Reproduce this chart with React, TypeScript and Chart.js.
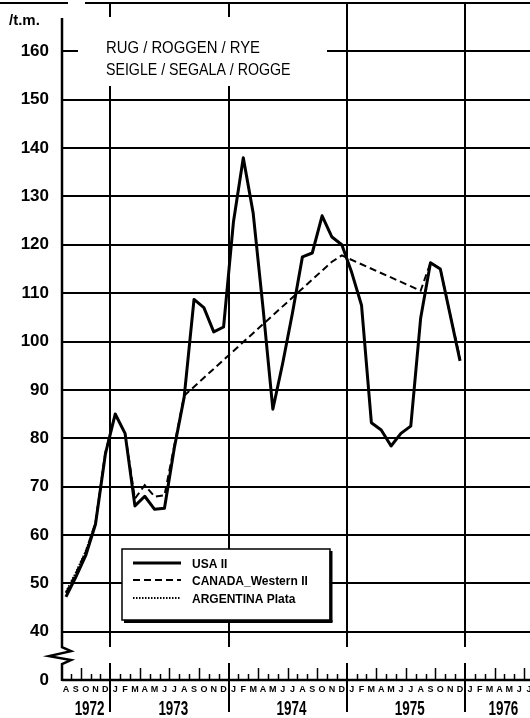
import React, { useEffect, useRef } from 'react';
import { Chart, registerables } from 'chart.js';

Chart.register(...registerables);

// ---- data ----
const FIRST_YEAR = 1972;
const FIRST_MONTH = 7; // August (0-based calendar month of index 0)
const MONTH_LETTERS = [
  'A', 'S', 'O', 'N', 'D',
  'J', 'F', 'M', 'A', 'M', 'J', 'J', 'A', 'S', 'O', 'N', 'D',
  'J', 'F', 'M', 'A', 'M', 'J', 'J', 'A', 'S', 'O', 'N', 'D',
  'J', 'F', 'M', 'A', 'M', 'J', 'J', 'A', 'S', 'O', 'N', 'D',
  'J', 'F', 'M', 'A', 'M', 'J', 'J',
];
const YEARS = ['1972', '1973', '1974', '1975', '1976'];
const Y_TICK_VALUES = [30, 40, 50, 60, 70, 80, 90, 100, 110, 120, 130, 140, 150, 160];
const Y_TICK_LABELS = ['0', '40', '50', '60', '70', '80', '90', '100', '110', '120', '130', '140', '150', '160'];

const USA = [
  47.2, 51.3, 55.7, 62.2, 76.7,
  85, 81, 66, 68, 65.3, 65.5, 78, 88.5, 108.7, 107, 102, 103,
  124.7, 138, 126.6, 107, 86, 95.5, 106, 117.5, 118.3, 126, 121.6, 120,
  114.3, 107.5, 83.2, 81.7, 78.4, 81, 82.5, 104.8, 116.3, 115, 105.5, 96,
];
const CANADA: (number | null)[] = [
  48, 52, 56.5, 62.5, 77,
  85, 81, 67.5, 70.3, 67.9, 68.2, 78.5, 88.8, null, null, null, null,
  null, null, null, null, null, null, null, null, null, null, 116.5, 117.8,
  null, null, null, null, null, null, null, 110.5, 116.3, 115, 105.5, 96.5,
];
const ARGENTINA: (number | null)[] = [
  48.2, 52.2, 56.6, 62.4, 77,
];

const SERIES_LABELS = ['USA II', 'CANADA_Western II', 'ARGENTINA Plata'];
const TITLE_LINES = ['RUG / ROGGEN / RYE', 'SEIGLE / SEGALA / ROGGE'];
const UNIT_LABEL = '/t.m.';

// axis break (drawn between the "0" position and 40)
const BREAK_HIGH = 36.8;
const BREAK_LOW = 33.5;

const FONT = "'Liberation Sans', Arial, Helvetica, sans-serif";

function toPoints(arr: (number | null)[]) {
  return arr
    .map((v, i) => ({ x: i, y: v }))
    .filter((p) => p.y !== null && p.y !== undefined);
}

function seg(ctx: CanvasRenderingContext2D, x1: number, y1: number, x2: number, y2: number) {
  ctx.beginPath();
  ctx.moveTo(x1, y1);
  ctx.lineTo(x2, y2);
  ctx.stroke();
}

function txt(
  ctx: CanvasRenderingContext2D,
  text: string,
  x: number,
  y: number,
  font: string,
  sx = 1,
  align: CanvasTextAlign = 'left'
) {
  ctx.save();
  ctx.font = font;
  ctx.fillStyle = '#000';
  ctx.textAlign = align;
  ctx.textBaseline = 'alphabetic';
  ctx.translate(x, y);
  ctx.scale(sx, 1);
  ctx.fillText(text, 0, 0);
  ctx.restore();
}

const decor = {
  id: 'decor',
  beforeDatasetsDraw(chart: any) {
    const { ctx, chartArea: ca, scales } = chart;
    const x = scales.x;
    const y = scales.y;
    const L = ca.left;
    const breakTop = y.getPixelForValue(BREAK_HIGH);
    const breakBot = y.getPixelForValue(BREAK_LOW);
    ctx.save();
    ctx.strokeStyle = '#000';
    ctx.fillStyle = '#000';

    // year boundary lines
    ctx.lineWidth = 2;
    for (let k = 1; k < YEARS.length; k++) {
      const idx = k * 12 - FIRST_MONTH - 0.5;
      const px = Math.round(x.getPixelForValue(idx));
      seg(ctx, px, ca.top, px, breakTop);
      seg(ctx, px, breakBot, px, ca.bottom + 32);
    }

    // top border
    seg(ctx, 0, ca.top, 68, ca.top);
    seg(ctx, 85, ca.top, ca.right, ca.top);

    // y axis with break
    ctx.lineWidth = 2.5;
    ctx.lineJoin = 'miter';
    ctx.beginPath();
    ctx.moveTo(L, ca.top + 15);
    ctx.lineTo(L, breakTop);
    ctx.lineTo(L + 9, breakTop + 4);
    ctx.lineTo(L - 13, breakTop + 9);
    ctx.lineTo(L + 9, breakTop + 13);
    ctx.lineTo(L, breakBot + 1);
    ctx.lineTo(L, ca.bottom + 1);
    ctx.stroke();

    // x axis
    ctx.lineWidth = 2.5;
    seg(ctx, L, ca.bottom, ca.right, ca.bottom);

    // month ticks
    ctx.lineWidth = 1.5;
    for (let i = 0; i < MONTH_LETTERS.length; i++) {
      const b = i - 0.5;
      if (b < x.min) continue;
      const cal = (FIRST_MONTH + i) % 12;
      if (cal === 0) continue;
      const h = cal % 3 === 0 ? 12 : 6;
      const px = Math.round(x.getPixelForValue(b)) + 0.5;
      seg(ctx, px, ca.bottom, px, ca.bottom - h);
    }

    // year labels
    YEARS.forEach((yr, k) => {
      const first = Math.max(0, k * 12 - FIRST_MONTH);
      const last = Math.min(MONTH_LETTERS.length - 1, k * 12 - FIRST_MONTH + 11);
      const px = x.getPixelForValue((first + last) / 2 + 0.4);
      txt(ctx, yr, px, ca.bottom + 35, `bold 21px ${FONT}`, 0.64, 'center');
    });

    // title box
    ctx.fillStyle = '#fff';
    ctx.fillRect(78, 17, 249, 69);
    txt(ctx, TITLE_LINES[0], 106, 53, `16.5px ${FONT}`, 0.9);
    txt(ctx, TITLE_LINES[1], 106, 75, `16.5px ${FONT}`, 0.86);

    // unit label
    txt(ctx, UNIT_LABEL, 9, 25, `bold 15px ${FONT}`, 1);

    ctx.restore();
  },
  afterDatasetsDraw(chart: any) {
    const { ctx } = chart;
    const bx = 122, by = 549, bw = 208, bh = 71;
    ctx.save();
    ctx.fillStyle = '#fff';
    ctx.fillRect(bx, by, bw, bh);
    ctx.strokeStyle = '#000';
    ctx.lineWidth = 1.5;
    ctx.strokeRect(bx, by, bw, bh);
    ctx.lineWidth = 3;
    seg(ctx, bx + bw + 1, by + 2, bx + bw + 1, by + bh + 2);
    seg(ctx, bx + 2, by + bh + 1.5, bx + bw + 2.5, by + bh + 1.5);

    const rows = [563, 580, 598];
    chart.data.datasets.forEach((ds: any, i: number) => {
      const yy = rows[i];
      ctx.save();
      ctx.strokeStyle = '#000';
      ctx.lineWidth = ds.borderWidth;
      ctx.setLineDash(ds.borderDash || []);
      seg(ctx, 133, yy, 181, yy);
      ctx.restore();
      txt(ctx, ds.label, 192, yy + 4.5, `bold 12px ${FONT}`, 1);
    });
    ctx.restore();
  },
};

export default function App() {
  const ref = useRef<HTMLCanvasElement>(null);

  useEffect(() => {
    const canvas = ref.current;
    if (!canvas) return;
    const chart = new Chart(canvas, {
      type: 'line',
      data: {
        datasets: [
          {
            label: SERIES_LABELS[0],
            data: toPoints(USA),
            borderColor: '#000',
            borderWidth: 3,
            pointRadius: 0,
            tension: 0,
            borderJoinStyle: 'round',
          },
          {
            label: SERIES_LABELS[1],
            data: toPoints(CANADA),
            borderColor: '#000',
            borderWidth: 2,
            borderDash: [7, 4],
            pointRadius: 0,
            tension: 0,
          },
          {
            label: SERIES_LABELS[2],
            data: toPoints(ARGENTINA),
            borderColor: '#000',
            borderWidth: 2,
            borderDash: [1.5, 1.5],
            pointRadius: 0,
            tension: 0,
          },
        ],
      } as any,
      options: {
        responsive: false,
        animation: false,
        devicePixelRatio: 1,
        parsing: true,
        layout: { padding: { top: 3, left: 0, right: 0, bottom: 0 } },
        plugins: {
          legend: { display: false },
          tooltip: { enabled: false },
          title: { display: false },
        },
        scales: {
          x: {
            type: 'linear',
            min: -0.4,
            max: 47.1,
            grid: { display: false, drawTicks: false },
            border: { display: false },
            afterBuildTicks: (s: any) => {
              s.ticks = MONTH_LETTERS.map((_, i) => ({ value: i }));
            },
            ticks: {
              autoSkip: false,
              maxRotation: 0,
              minRotation: 0,
              padding: 4,
              color: '#000',
              font: { family: FONT, size: 9, weight: 'bold' },
              callback: (v: any) => MONTH_LETTERS[Math.round(Number(v))] ?? '',
            },
            afterFit: (s: any) => {
              s.height = 38;
              s.paddingLeft = 0;
              s.paddingRight = 0;
            },
          },
          y: {
            type: 'linear',
            min: 30,
            max: 170,
            border: { display: false },
            grid: {
              drawTicks: false,
              lineWidth: 2,
              color: (c: any) => (c.tick && c.tick.value >= 40 ? '#000' : 'rgba(0,0,0,0)'),
            },
            afterBuildTicks: (s: any) => {
              s.ticks = Y_TICK_VALUES.map((v) => ({ value: v }));
            },
            ticks: {
              autoSkip: false,
              padding: 13,
              color: '#000',
              font: { family: FONT, size: 17, weight: 'bold' },
              callback: (v: any) => {
                const i = Y_TICK_VALUES.indexOf(Number(v));
                return i >= 0 ? Y_TICK_LABELS[i] : '';
              },
            },
            afterFit: (s: any) => {
              s.width = 62;
              s.paddingTop = 0;
              s.paddingBottom = 0;
            },
          },
        },
      } as any,
      plugins: [decor],
    });
    return () => chart.destroy();
  }, []);

  return (
    <div style={{ position: 'absolute', left: 0, top: 0, width: 530, height: 718, background: '#fff' }}>
      <canvas ref={ref} width={530} height={718} style={{ display: 'block' }} />
    </div>
  );
}
